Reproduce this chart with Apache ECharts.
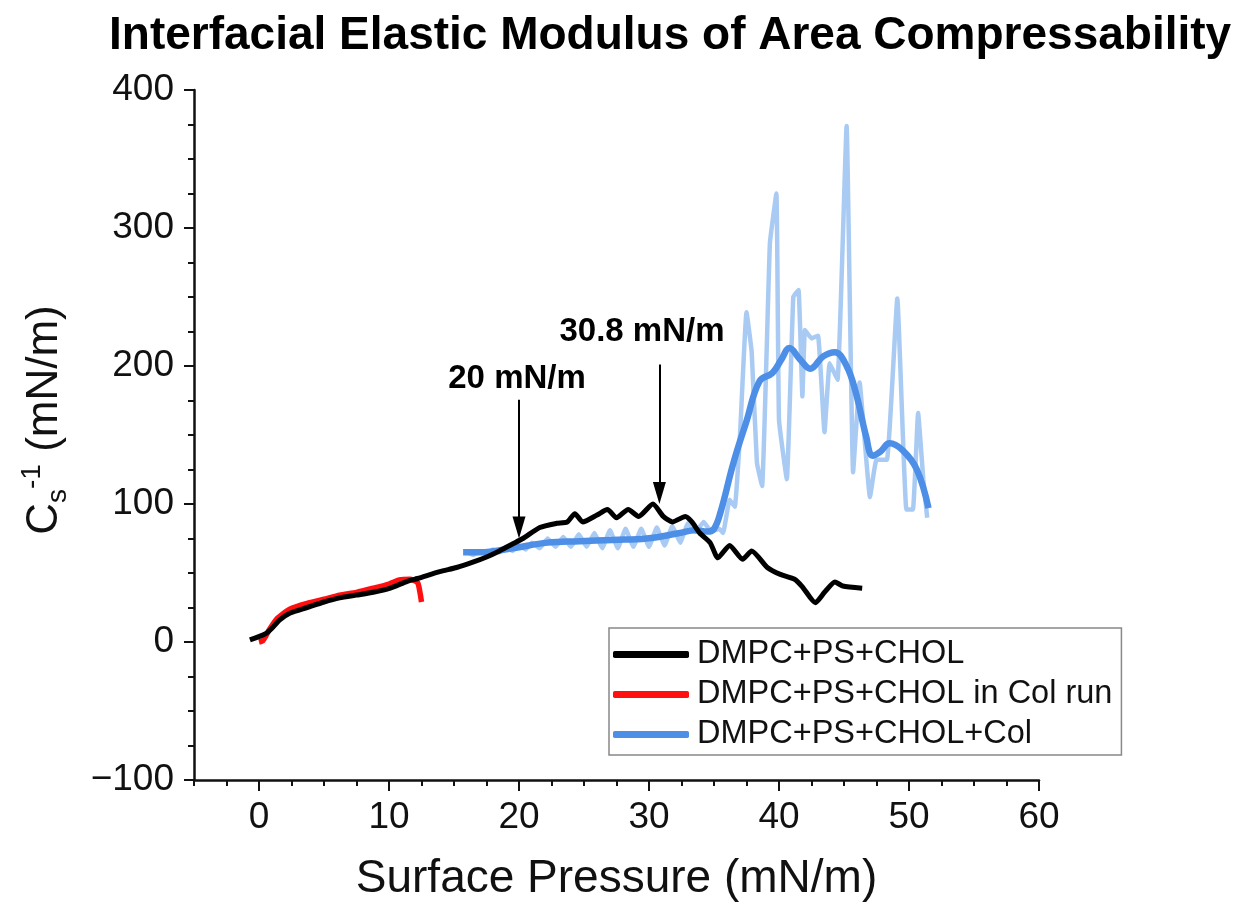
<!DOCTYPE html>
<html><head><meta charset="utf-8">
<script src="https://cdn.jsdelivr.net/npm/echarts@6/dist/echarts.min.js"></script>
<style>html,body{margin:0;padding:0;background:#fff}#c{width:1236px;height:909px}</style>
</head><body><div id="c"></div>
<script>
// ---- tick labels ----
const xTicks = [0, 10, 20, 30, 40, 50, 60];
const yTicks = [-100, 0, 100, 200, 300, 400];

// ---- series names ----
const seriesNames = ['DMPC+PS+CHOL', 'DMPC+PS+CHOL in Col run', 'DMPC+PS+CHOL+Col'];

// ---- DMPC+PS+CHOL (black) ----
const blackX = [-0.7, 0.5, 1.0, 1.6, 2.4, 3.7, 5.0, 6.2, 7.5, 8.8, 10.1, 11.4, 12.2, 13.9, 15.2, 16.5, 17.6, 18.3, 19.5, 20.3, 21.6, 22.9, 23.7, 24.3, 24.9, 26.0, 26.8, 27.5, 28.4, 29.2, 30.3, 31.1, 31.8, 32.8, 33.3, 33.9, 34.7, 35.3, 36.2, 37.2, 37.9, 39.1, 40.1, 41.2, 41.8, 42.8, 43.5, 44.3, 44.9, 46.4];
const blackY = [1.5, 6, 10, 16, 21, 25, 29, 32, 34, 36, 39, 44, 46, 51, 54, 58, 62, 65, 71, 75, 83, 86, 87, 93, 87, 92, 96, 90, 96, 91, 100, 91, 87, 91, 87, 79, 72, 61, 70, 60, 66, 54, 49, 45.5, 40, 28.5, 36, 43.5, 40.6, 39];

// ---- DMPC+PS+CHOL in Col run (red) ----
const redX = [0.0, 0.3, 0.5, 0.8, 1.4, 2.4, 3.7, 5.0, 6.2, 7.5, 8.8, 10.0, 10.8, 11.6, 12.2, 12.4, 12.5];
const redY = [0, 1, 4, 9, 17, 24, 28, 31, 34, 36, 39, 42, 45, 45.5, 43, 35, 29];

// ---- DMPC+PS+CHOL+Col smoothed (blue) ----
const blueX = [15.7, 17.0, 19.5, 22.2, 24.7, 27.2, 29.8, 32.4, 33.5, 34.5, 35.0, 35.5, 36.5, 37.5, 38.5, 39.5, 40.2, 40.8, 41.6, 42.4, 43.4, 44.3, 45.2, 45.9, 46.7, 47.2, 47.8, 48.5, 49.5, 50.6, 51.5];
const blueY = [65, 65, 68, 72, 73, 74, 75, 79, 81, 80, 82, 94, 130, 160, 189, 195, 205, 213, 205, 198, 207, 210, 200, 181, 149, 135, 138, 144, 139, 125, 97];

// ---- DMPC+PS+CHOL+Col raw (light blue) ----
const rawX = [16.0, 16.5, 17.0, 17.5, 18.0, 18.5, 19.0, 19.5, 20.0, 20.5, 21.0, 21.6, 22.2, 22.8, 23.4, 24.0, 24.6, 25.2, 25.8, 26.4, 27.0, 27.6, 28.2, 28.8, 29.4, 30.0, 30.6, 31.2, 31.8, 32.4, 33.0, 33.6, 34.2, 34.8, 35.4, 35.7, 36.2, 36.6, 37.0, 37.5, 37.9, 38.3, 38.7, 39.3, 39.8, 40.0, 40.6, 41.1, 41.5, 41.8, 42.0, 42.5, 43.0, 43.5, 43.9, 44.5, 45.2, 45.7, 46.2, 47.0, 47.5, 48.3, 49.1, 49.8, 50.3, 50.7, 51.1, 51.4];
const rawY = [65, 63, 66, 64, 67, 65, 69, 66, 70, 67, 72, 68, 75, 69, 76, 69, 78, 69, 79, 68, 81, 68, 82, 69, 82, 69, 83, 70, 84, 72, 86, 80, 87, 80, 82, 79, 103, 98, 150, 239, 210, 130, 113, 289, 325, 161, 118, 250, 255, 178, 226, 220, 222, 152, 202, 190, 374, 123, 188, 105, 132, 132, 249, 96, 96, 166, 118, 90];

// ---- annotations ----
const annoText = ['20 mN/m', '30.8 mN/m'];
const annoX = [19.85, 29.46];
const annoY = [191, 225];
const arrowX = [20, 30.8];
const arrowTop = [175.5, 201];
const arrowBottom = [83, 108];

const pairs = (xs, ys) => xs.map((x, i) => [x, ys[i]]);
const FONT = 'Liberation Sans, Arial, Helvetica, sans-serif';

const chart = echarts.init(document.getElementById('c'), null, {renderer: 'canvas'});
const option = {
  animation: false,
  backgroundColor: '#ffffff',
  title: {
    text: 'Interfacial Elastic Modulus of Area Compressability',
    left: 104, top: 8,
    textStyle: {fontFamily: FONT, fontWeight: 'bold', fontSize: 46, color: '#000'}
  },
  grid: {left: 194, right: 197, top: 90, bottom: 129, containLabel: false},
  legend: {
    data: seriesNames,
    orient: 'vertical',
    left: 609, top: 628,
    width: 540,
    padding: [10, 9, 4, 4],
    itemGap: 7,
    itemWidth: 76, itemHeight: 7,
    icon: 'roundRect',
    borderColor: '#888', borderWidth: 1.5,
    textStyle: {fontFamily: FONT, fontSize: 32.5, lineHeight: 32, color: '#111', padding: [0, 0, 0, 3]}
  },
  xAxis: [{
    type: 'value', min: -5, max: 60, interval: 2.5,
    name: 'Surface Pressure (mN/m)', nameLocation: 'middle', nameGap: 76,
    nameTextStyle: {fontFamily: FONT, fontSize: 46, color: '#111'},
    axisLine: {show: true, onZero: false, lineStyle: {color: '#111', width: 2.5}},
    axisTick: {show: true, customValues: xTicks, length: 11, lineStyle: {color: '#111', width: 2}},
    axisLabel: {customValues: xTicks, fontFamily: FONT, fontSize: 37, color: '#111', margin: 19},
    splitLine: {show: false}
  }, {
    type: 'value', min: -5, max: 60, interval: 2.5, position: 'bottom',
    axisLine: {show: false, onZero: false},
    axisTick: {show: true, length: 6, lineStyle: {color: '#111', width: 2}},
    axisLabel: {show: false},
    splitLine: {show: false}
  }],
  yAxis: {
    type: 'value', min: -100, max: 400, interval: 100,
    name: '{c|C}{s|s}{e|-1}{t| (mN/m)}', nameLocation: 'middle', nameGap: 122, nameRotate: 90,
    nameTextStyle: {
      fontFamily: FONT, fontSize: 44, color: '#111', padding: [0, 0, 0, 30],
      rich: {
        c: {fontFamily: FONT, fontSize: 44, color: '#111', lineHeight: 54, verticalAlign: 'middle'},
        s: {fontFamily: FONT, fontSize: 28, color: '#111', lineHeight: 54, verticalAlign: 'bottom'},
        e: {fontFamily: FONT, fontSize: 28, color: '#111', lineHeight: 54, verticalAlign: 'top'},
        t: {fontFamily: FONT, fontSize: 44, color: '#111', lineHeight: 54, verticalAlign: 'middle'}
      }
    },
    axisLine: {show: true, onZero: false, lineStyle: {color: '#111', width: 2.5}},
    axisTick: {show: true, length: 10, lineStyle: {color: '#111', width: 2}},
    minorTick: {show: true, splitNumber: 4, length: 6, lineStyle: {color: '#111', width: 2}},
    axisLabel: {fontFamily: FONT, fontSize: 37, color: '#111', margin: 20,
      formatter: v => yTicks.includes(v) ? (v < 0 ? '\u2212' + Math.abs(v) : String(v)) : ''},
    splitLine: {show: false}
  },
  series: [
    {
      name: seriesNames[1], type: 'line', data: pairs(redX, redY), showSymbol: false, symbol: 'none',
      smooth: 0.2, lineStyle: {color: '#ff1010', width: 5.5}, itemStyle: {color: '#ff1010'}, z: 2
    },
    {
      name: 'raw', type: 'line', data: pairs(rawX, rawY), showSymbol: false, symbol: 'none',
      smooth: 0.1, lineStyle: {color: '#a9cbf3', width: 4.5}, itemStyle: {color: '#a9cbf3'}, z: 3
    },
    {
      name: seriesNames[2], type: 'line', data: pairs(blueX, blueY), showSymbol: false, symbol: 'none',
      smooth: 0.4, lineStyle: {color: '#4d8fe6', width: 6.5}, itemStyle: {color: '#4d8fe6'}, z: 4
    },
    {
      name: seriesNames[0], type: 'line', data: pairs(blackX, blackY), showSymbol: false, symbol: 'none',
      smooth: 0.2, lineStyle: {color: '#000', width: 5}, itemStyle: {color: '#000'}, z: 5
    },
    {
      name: 'annotations', type: 'scatter', symbolSize: 0, silent: true, z: 6,
      itemStyle: {opacity: 1, color: '#000'},
      data: annoText.map((t, i) => ({value: [annoX[i], annoY[i]], name: t})),
      label: {show: true, position: 'inside', formatter: p => p.name, opacity: 1,
        fontFamily: FONT, fontWeight: 'bold', fontSize: 33, color: '#000', textBorderWidth: 0},
      markLine: {
        silent: true, symbol: ['none', 'triangle'], symbolSize: [13, 22],
        label: {show: false},
        lineStyle: {color: '#000', width: 2, type: 'solid', opacity: 1},
        itemStyle: {color: '#000'},
        data: arrowX.map((x, i) => [{coord: [x, arrowTop[i]]}, {coord: [x, arrowBottom[i]]}])
      }
    }
  ]
};
chart.setOption(option);
</script>
</body></html>
